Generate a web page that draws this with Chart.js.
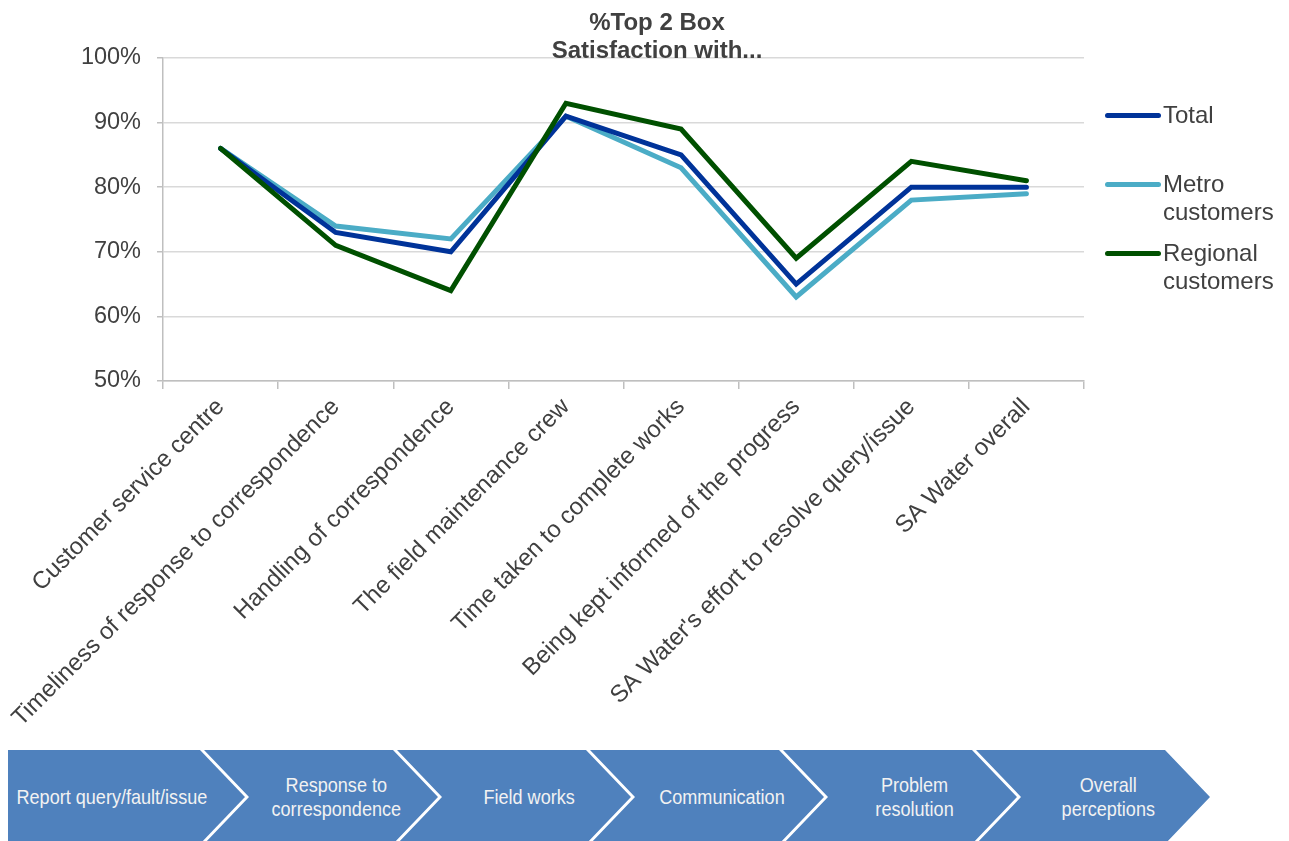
<!DOCTYPE html>
<html>
<head>
<meta charset="utf-8">
<script src="https://cdn.jsdelivr.net/npm/chart.js@4.4.0/dist/chart.umd.min.js"></script>
<style>
  body { margin: 0; background: #fff; font-family: "Liberation Sans", Arial, sans-serif; }
  #wrap { position: relative; width: 1289px; height: 841px; overflow: hidden; }
  #chart { position: absolute; left: 0; top: 0; }
  #title { position: absolute; left: 457px; width: 400px; top: 8px; text-align: center;
    font-weight: bold; font-size: 24px; line-height: 28px; color: #404040; }
  .leg { position: absolute; left: 1105px; font-size: 24px; line-height: 28px; color: #404040; }
  .leg i { position: absolute; left: 0; width: 56px; height: 5px; border-radius: 3px; }
  .leg span { position: absolute; left: 58px; top: 0; white-space: nowrap; }
  .chev { position: absolute; top: 750px; height: 94px; background: #4f81bd; color: #f2f2f2;
    display: flex; align-items: center; justify-content: center; text-align: center;
    font-size: 21px; line-height: 24px; box-sizing: border-box; }
  .chev span { display: inline-block; transform: scaleX(0.86); white-space: nowrap; }
</style>
</head>
<body>
<div id="wrap">
  <canvas id="chart" width="1289" height="745"></canvas>
  <div id="title">%Top 2 Box<br>Satisfaction with...</div>
  <div id="legend"></div>
  <div id="steps"></div>
</div>
<script>
// 카테고리 / 시리즈 값 (%)
const categories = [
  'Customer service centre',
  'Timeliness of response to correspondence',
  'Handling of correspondence',
  'The field maintenance crew',
  'Time taken to complete works',
  'Being kept informed of the progress',
  "SA Water's effort to resolve query/issue",
  'SA Water overall'
];
const totalValues = [86, 73, 70, 91, 85, 65, 80, 80];
const metroValues = [86, 74, 72, 91, 83, 63, 78, 79];
const regionalValues = [86, 71, 64, 93, 89, 69, 84, 81];
const yTicks = [50, 60, 70, 80, 90, 100];

const seriesNames = ['Total', 'Metro customers', 'Regional customers'];
const seriesColors = ['#003399', '#4bacc6', '#005000'];

// 하단 프로세스 단계
const steps = ['Report query/fault/issue', 'Response to<br>correspondence', 'Field works',
  'Communication', 'Problem<br>resolution', 'Overall<br>perceptions'];

const ctx = document.getElementById('chart').getContext('2d');

const myChart = new Chart(ctx, {
  type: 'line',
  data: {
    labels: categories,
    datasets: [
      { label: seriesNames[0], data: totalValues, borderColor: seriesColors[0], order: 1 },
      { label: seriesNames[1], data: metroValues, borderColor: seriesColors[1], order: 2 },
      { label: seriesNames[2], data: regionalValues, borderColor: seriesColors[2], order: 0 }
    ].map(d => Object.assign(d, {
      borderWidth: 5,
      pointRadius: 0,
      tension: 0,
      fill: false,
      borderJoinStyle: 'miter',
      borderCapStyle: 'round'
    }))
  },
  options: {
    responsive: false,
    animation: false,
    layout: { padding: { left: 0, right: 205, top: 58, bottom: 0 } },
    plugins: {
      legend: { display: false },
      title: { display: false },
      tooltip: { enabled: false }
    },
    scales: {
      x: {
        offset: true,
        grid: { offset: true, drawOnChartArea: false, drawTicks: true, tickLength: 8, color: '#bfbfbf', lineWidth: 1.5 },
        border: { color: '#bfbfbf', width: 1.5 },
        ticks: {
          autoSkip: false, minRotation: 45, maxRotation: 45, padding: 4,
          color: '#404040', font: { family: 'Liberation Sans', size: 24 }
        },
        afterFit: (scale) => { scale.height = 745 - 381; }
      },
      y: {
        min: 50, max: 100,
        afterBuildTicks: (scale) => { scale.ticks = yTicks.map(v => ({ value: v })); },
        grid: { color: '#d9d9d9', lineWidth: 1.5, tickLength: 6, tickColor: '#bfbfbf' },
        border: { color: '#bfbfbf', width: 1.5 },
        ticks: {
          padding: 16, color: '#404040', font: { family: 'Liberation Sans', size: 23.5 },
          callback: (v) => v + '%'
        },
        afterFit: (scale) => { scale.width = 163; }
      }
    }
  }
});

// 범례 (HTML)
const legendTops = [101, 170, 239];
const legendDiv = document.getElementById('legend');
seriesNames.forEach((name, i) => {
  const d = document.createElement('div');
  d.className = 'leg';
  d.style.top = legendTops[i] + 'px';
  const line = document.createElement('i');
  line.style.background = seriesColors[i];
  line.style.top = '12px';
  const span = document.createElement('span');
  span.innerHTML = name.replace(' ', '<br>');
  d.appendChild(line);
  d.appendChild(span);
  legendDiv.appendChild(d);
});

// 셰브론 단계
const stepsDiv = document.getElementById('steps');
steps.forEach((txt, i) => {
  const right = 200 + 193 * i;
  const left = i === 0 ? 8 : right - 193 + 4;
  const w = right + 45 - left;
  const el = document.createElement('div');
  el.className = 'chev';
  el.style.left = left + 'px';
  el.style.width = w + 'px';
  const notch = i === 0 ? 0 : 45;
  el.style.clipPath = `polygon(0 0, ${w - 45}px 0, ${w}px 47px, ${w - 45}px 94px, 0 94px, ${notch}px 47px)`;
  el.style.paddingLeft = (i === 0 ? 0 : 30) + 'px';
  el.style.paddingRight = (i === 0 ? 30 : 0) + 'px';
  el.innerHTML = '<span>' + txt + '</span>';
  stepsDiv.appendChild(el);
});
</script>
</body>
</html>
